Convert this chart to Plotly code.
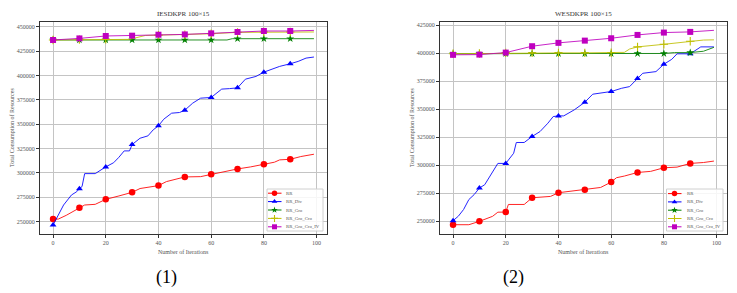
import plotly.graph_objects as go

W, H = 737, 293

# ---------------- text / categories ----------------
SERIES = ["RR", "RR_Div", "RR_Gro", "RR_Gro_Cro", "RR_Gro_Cro_IV"]
TITLES = ["IESDKPR 100×15", "WESDKPR 100×15"]
CAPTIONS = ["(1)", "(2)"]
X_LABEL = "Number of Iterations"
Y_LABEL = "Total Consumption of Resources"
X_TICKS = [0, 20, 40, 60, 80, 100]
Y_TICKS_1 = [250000, 275000, 300000, 325000, 350000, 375000, 400000, 425000, 450000]
Y_TICKS_2 = [250000, 275000, 300000, 325000, 350000, 375000, 400000, 425000]

# ---------------- panel (1): IESDKPR 100x15 ----------------
p1_rr_x = [0, 2, 5, 8, 10, 12, 16, 20, 25, 30, 33, 37, 40, 43, 46, 50, 56, 60, 65, 70, 75, 80, 84, 86, 90, 94, 99]
p1_rr_y = [252700, 252700, 256500, 261300, 264400, 267100, 267800, 272900, 276400, 280100, 284000, 285500,
           287000, 291100, 293500, 295900, 296200, 298600, 301400, 304100, 306200, 308900, 311000, 313400,
           314000, 316800, 319200]

p1_div_x = [0, 2, 4, 7, 9, 10, 11, 12, 16, 20, 23, 25, 27, 29, 30, 33, 36, 38, 40, 42, 45, 48, 50, 53, 56, 60,
            64, 67, 70, 73, 77, 80, 84, 86, 90, 93, 96, 99]
p1_div_y = [246600, 256800, 267100, 277400, 280800, 283900, 286000, 299300, 299300, 306200, 310500, 316100,
            322600, 322600, 329100, 335600, 338000, 344200, 348300, 355100, 361300, 362000, 364400, 371600,
            376700, 377400, 386000, 386500, 387300, 396200, 399000, 403400, 407600, 409300, 412000, 414400,
            417800, 418900]

p1_gro_x = [0, 10, 20, 30, 40, 50, 60, 66, 68, 70, 80, 90, 99]
p1_gro_y = [436400, 436400, 436400, 436400, 436400, 436400, 436400, 436400, 437700, 437700, 437700, 437700, 437700]

p1_cro_x = [0, 10, 20, 29, 35, 40, 50, 60, 70, 80, 90, 99]
p1_cro_y = [436400, 436700, 437000, 437000, 441000, 441400, 441800, 442800, 444200, 444600, 444600, 444600]

p1_iv_x = [0, 10, 20, 30, 40, 50, 60, 70, 80, 90, 99]
p1_iv_y = [436400, 438000, 440500, 440800, 441800, 442100, 443200, 444600, 445600, 445600, 446200]

# ---------------- panel (2): WESDKPR 100x15 ----------------
p2_rr_x = [0, 6, 10, 15, 17, 20, 21, 27, 30, 37, 40, 50, 56, 60, 62, 65, 70, 75, 80, 85, 90, 95, 99]
p2_rr_y = [246700, 246700, 249700, 254200, 257900, 258000, 264800, 264800, 270800, 272000, 275300, 278000,
           280000, 284800, 288700, 290200, 293400, 294400, 297600, 298200, 301500, 302300, 303600]

p2_div_x = [0, 2, 4, 6, 8, 10, 12, 15, 17, 20, 22, 23, 24, 27, 30, 33, 36, 38, 40, 42, 46, 50, 53, 56, 60,
            64, 67, 70, 72, 77, 80, 83, 85, 90, 92, 94, 99]
p2_div_y = [250300, 254300, 260300, 269200, 273600, 279500, 282400, 293300, 301500, 301500, 308300, 310600,
            320200, 320200, 325600, 330000, 337500, 343400, 344000, 344000, 349400, 356200, 363400, 364300,
            365800, 368700, 370200, 377400, 382100, 383600, 390200, 394600, 399500, 399500, 402700, 405700,
            405700]

p2_gro_x = [0, 10, 20, 30, 40, 50, 60, 70, 80, 84, 90, 95, 99]
p2_gro_y = [399500, 399700, 399800, 399800, 399800, 399800, 399800, 399800, 399800, 400600, 400600, 401800, 405300]

p2_cro_x = [0, 10, 20, 30, 40, 50, 60, 65, 67, 70, 80, 90, 95, 99]
p2_cro_y = [399500, 399800, 400300, 400300, 400300, 400300, 400500, 400800, 403800, 405700, 408000, 410700,
            411800, 412000]

p2_iv_x = [0, 10, 20, 30, 40, 50, 60, 70, 80, 90, 99]
p2_iv_y = [398600, 398800, 400600, 406300, 409300, 411300, 413400, 416400, 418500, 419100, 420500]

PANELS = [
    [(p1_rr_x, p1_rr_y), (p1_div_x, p1_div_y), (p1_gro_x, p1_gro_y), (p1_cro_x, p1_cro_y), (p1_iv_x, p1_iv_y)],
    [(p2_rr_x, p2_rr_y), (p2_div_x, p2_div_y), (p2_gro_x, p2_gro_y), (p2_cro_x, p2_cro_y), (p2_iv_x, p2_iv_y)],
]

# ---------------- styles ----------------
COLORS = ["#ff0000", "#0000ff", "#008000", "#bfbf00", "#bf00bf"]
SYMBOLS = ["circle", "triangle-up", "star", "cross-thin", "square"]
MSIZES = [6.5, 6, 6, 6, 6]
LEG_MSIZES = [5.5, 5, 5, 5, 5]
MARK_EVERY = 10

# pixel geometry of the two axes boxes (left, top, right, bottom)
BOXES = [(40, 22, 327, 234), (440, 22, 727, 234)]
X_RANGE = [-4.95, 103.95]
Y_RANGES = [[237360, 454830], [238390, 427950]]
Y_TICKS = [Y_TICKS_1, Y_TICKS_2]

SERIF = "Liberation Serif"
GRAY_TXT = "#555555"


def mk(i, size):
    m = dict(symbol=SYMBOLS[i], size=size, color=COLORS[i], line=dict(width=0))
    if SYMBOLS[i] == "cross-thin":
        m["line"] = dict(width=1.1, color=COLORS[i])
    return m


fig = go.Figure()

for p, panel in enumerate(PANELS):
    xa = "x" if p == 0 else "x2"
    ya = "y" if p == 0 else "y2"
    for i, (xs, ys) in enumerate(panel):
        fig.add_trace(go.Scatter(x=xs, y=ys, mode="lines", line=dict(color=COLORS[i], width=1),
                                 opacity=0.85, xaxis=xa, yaxis=ya, showlegend=False, hoverinfo="skip"))
        mx = [x for x in xs if x % MARK_EVERY == 0]
        my = [y for x, y in zip(xs, ys) if x % MARK_EVERY == 0]
        fig.add_trace(go.Scatter(x=mx, y=my, mode="markers", marker=mk(i, MSIZES[i]),
                                 xaxis=xa, yaxis=ya, showlegend=False, hoverinfo="skip"))

# ---------------- manual legends (overlay pixel axis) ----------------
LEGENDS = [
    dict(box=(267, 189, 323, 231), line=(268, 281.5), mk=274.5, tx=284, y0=193.2, dy=8.4),
    dict(box=(666.5, 189, 723, 231), line=(668, 681.5), mk=674.5, tx=684.5, y0=193.6, dy=8.3),
]
annotations = []
for lg in LEGENDS:
    x0, y0, x1, y1 = lg["box"]
    fig.add_trace(go.Scatter(x=[x0, x1, x1, x0, x0], y=[y0, y0, y1, y1, y0], mode="lines", fill="toself",
                             fillcolor="rgba(255,255,255,0.85)", line=dict(color="#d0d0d0", width=1),
                             xaxis="x3", yaxis="y3", showlegend=False, hoverinfo="skip"))
    for i, name in enumerate(SERIES):
        yy = lg["y0"] + i * lg["dy"]
        fig.add_trace(go.Scatter(x=[lg["line"][0], lg["line"][1]], y=[yy, yy], mode="lines",
                                 line=dict(color=COLORS[i], width=1), xaxis="x3", yaxis="y3",
                                 showlegend=False, hoverinfo="skip"))
        fig.add_trace(go.Scatter(x=[lg["mk"]], y=[yy], mode="markers", marker=mk(i, LEG_MSIZES[i]),
                                 xaxis="x3", yaxis="y3", showlegend=False, hoverinfo="skip"))
        annotations.append(dict(x=lg["tx"] / W, y=1 - yy / H, xref="paper", yref="paper", text=name,
                                showarrow=False, xanchor="left", yanchor="middle",
                                font=dict(family=SERIF, size=4.8, color=GRAY_TXT)))

# ---------------- titles / labels / captions ----------------
for p, (l, t, r, b) in enumerate(BOXES):
    cx = (l + r) / 2
    cy = (t + b) / 2
    annotations.append(dict(x=cx / W, y=1 - 14 / H, xref="paper", yref="paper", text=TITLES[p],
                            showarrow=False, xanchor="center", yanchor="middle",
                            font=dict(family=SERIF, size=7, color="#333333")))
    annotations.append(dict(x=cx / W, y=1 - 251.5 / H, xref="paper", yref="paper", text=X_LABEL,
                            showarrow=False, xanchor="center", yanchor="middle",
                            font=dict(family=SERIF, size=6, color=GRAY_TXT)))
    annotations.append(dict(x=(l - 28) / W, y=1 - cy / H, xref="paper", yref="paper", text=Y_LABEL,
                            showarrow=False, xanchor="center", yanchor="middle", textangle=-90,
                            font=dict(family=SERIF, size=6, color=GRAY_TXT)))

CAPTION_X = [166, 513.5]
for c, cxp in zip(CAPTIONS, CAPTION_X):
    annotations.append(dict(x=cxp / W, y=1 - 277 / H, xref="paper", yref="paper", text=c,
                            showarrow=False, xanchor="center", yanchor="middle",
                            font=dict(family=SERIF, size=18, color="#000000")))


def axis_style():
    return dict(showline=True, linecolor="#333333", linewidth=1, mirror=True, ticks="outside", ticklen=3,
                tickwidth=1, tickcolor="#333333", showgrid=True, gridcolor="#c4c4c4", gridwidth=1,
                zeroline=False, tickfont=dict(family=SERIF, size=6, color=GRAY_TXT), fixedrange=True)


layout = dict(width=W, height=H, margin=dict(l=0, r=0, t=0, b=0), paper_bgcolor="white",
              plot_bgcolor="rgba(0,0,0,0)", showlegend=False, hovermode=False, annotations=annotations)

for p, (l, t, r, b) in enumerate(BOXES):
    xk = "xaxis" if p == 0 else "xaxis2"
    yk = "yaxis" if p == 0 else "yaxis2"
    xa = axis_style()
    xa.update(domain=[l / W, r / W], range=X_RANGE, tickvals=X_TICKS, anchor="y" if p == 0 else "y2")
    ya = axis_style()
    ya.update(domain=[1 - b / H, 1 - t / H], range=Y_RANGES[p], tickvals=Y_TICKS[p],
              ticktext=[str(v) for v in Y_TICKS[p]], anchor="x" if p == 0 else "x2")
    layout[xk] = xa
    layout[yk] = ya

layout["xaxis3"] = dict(domain=[0, 1], range=[0, W], visible=False, anchor="y3", fixedrange=True)
layout["yaxis3"] = dict(domain=[0, 1], range=[H, 0], visible=False, anchor="x3", fixedrange=True)

fig.update_layout(**layout)
fig.write_html("out.html", config={"displayModeBar": False},
               post_script="document.body.style.margin='0';document.body.style.padding='0';")
